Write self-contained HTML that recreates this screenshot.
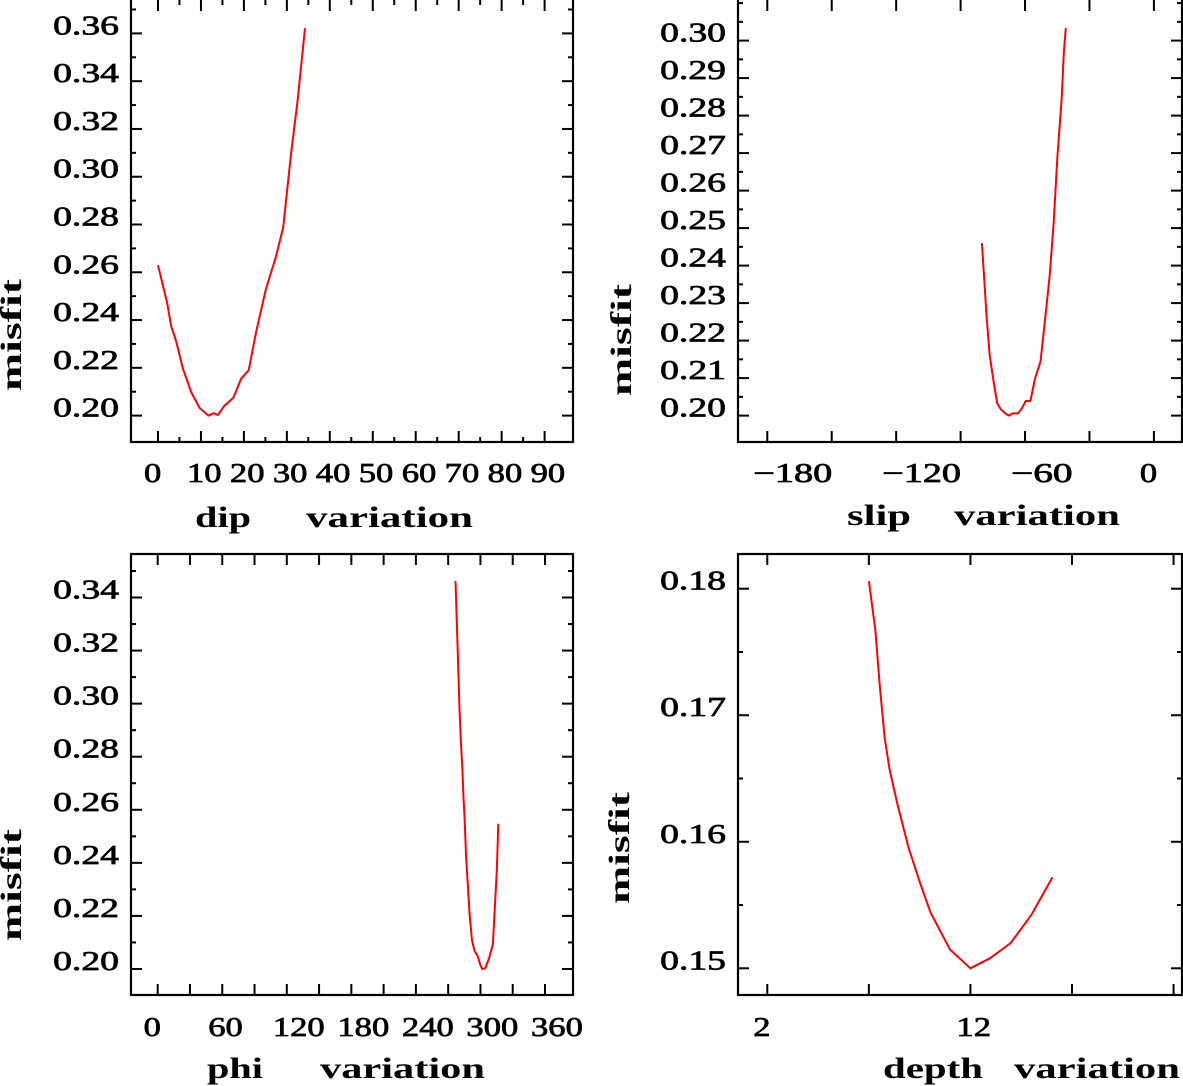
<!DOCTYPE html>
<html><head><meta charset="utf-8">
<style>
html,body{margin:0;padding:0;background:#fff;}
svg{display:block;}
text{font-family:"Liberation Serif",serif;fill:#000;}
</style></head>
<body>
<svg id="fig" width="1183" height="1086" viewBox="0 0 1183 1086" xmlns="http://www.w3.org/2000/svg"></svg>
<script>
// ---- Panel 1: dip ----
const dipX = [0,2.14,3.03,4.19,5.79,7.75,9.71,11.76,12.92,14.0,15.33,17.56,19.34,21.12,22.9,25.13,27.36,29.14,30.93,32.53,34.22];
const dipY = [0.263,0.2471,0.2378,0.2313,0.2197,0.2097,0.2032,0.2,0.201,0.2003,0.2039,0.2075,0.2154,0.219,0.2356,0.2529,0.2659,0.2788,0.3091,0.3322,0.3622];
const dipXTicks = [0,10,20,30,40,50,60,70,80,90];
const dipYTicks = [0.20,0.22,0.24,0.26,0.28,0.30,0.32,0.34,0.36];
// ---- Panel 2: slip ----
const slipX = [-80.1,-79.1,-77.9,-76.5,-74.8,-73.0,-71.3,-69.2,-67.5,-65.8,-63.2,-61.4,-59.7,-57.5,-55.4,-52.8,-50.2,-48.5,-46.7,-45.0,-42.9,-41.9,-41.0];
const slipY = [0.246,0.2374,0.2264,0.2163,0.2098,0.2034,0.2017,0.2006,0.2,0.2006,0.2006,0.202,0.2039,0.2039,0.2098,0.2144,0.2282,0.2374,0.2511,0.2686,0.2851,0.2971,0.3033];
const slipXTicks = [-180,-120,-60,0];
const slipYTicks = [0.20,0.21,0.22,0.23,0.24,0.25,0.26,0.27,0.28,0.29,0.30];
// ---- Panel 3: phi ----
const phiX = [276.8,278.5,279.6,280.3,281.8,283.2,284.2,285.3,286.7,288.2,289.9,292.1,294.6,297.4,299.9,301.7,304.5,308.1,311.6,313.8,315.2,315.9,316.6];
const phiY = [0.3462,0.3249,0.3105,0.3,0.2855,0.2751,0.2646,0.2567,0.2422,0.2318,0.2206,0.2108,0.2068,0.2049,0.2016,0.2,0.2003,0.2042,0.2094,0.2265,0.237,0.2462,0.2547];
const phiXTicks = [0,60,120,180,240,300,360];
const phiYTicks = [0.20,0.22,0.24,0.26,0.28,0.30,0.32,0.34];
// ---- Panel 4: depth ----
const depthX = [7.0,7.32,7.54,7.78,8.02,8.42,8.94,9.49,10.04,10.99,12.0,12.97,13.98,14.99,16.04];
const depthY = [0.1806,0.1767,0.1723,0.1682,0.1657,0.1629,0.1596,0.1569,0.1544,0.1515,0.15,0.1508,0.152,0.1542,0.1572];
const depthXTicks = [2,12];
const depthYTicks = [0.15,0.16,0.17,0.18];

const NS = "http://www.w3.org/2000/svg";
const svg = document.getElementById('fig');
function mk(tag, attrs, parent){
  const e = document.createElementNS(NS, tag);
  for (const k in attrs) e.setAttribute(k, attrs[k]);
  (parent||svg).appendChild(e);
  return e;
}
function labelWidth(s){
  let w=0;
  for (const c of s){ if(c==='.') w+=14; else if(c==='\u2212') w+=27; else w+=17.3; }
  return w;
}

const panels = [
 {name:'dip', xs:dipX, ys:dipY, xt:dipXTicks, yt:dipYTicks,
  L:131,R:573,T:-2,B:442, x0:0,x1:90,px0:158,px1:544.6, y0:0.20,y1:0.36,py0:415.6,py1:33.4,
  xMinorStep:5, yMinorStep:0.01, xlabBase:482, xStart:0,
  titles:[['dip',195,251],['variation',306,473]], titleBase:527, misfit:[12,335]},
 {name:'slip', xs:slipX, ys:slipY, xt:slipXTicks, yt:slipYTicks,
  L:738,R:1182,T:-2,B:442, x0:-180,x1:0,px0:767.3,px1:1153.9, y0:0.20,y1:0.30,py0:415.6,py1:40.6,
  xMinorStep:30, yMinorStep:0.005, xlabBase:482, xStart:-180,
  titles:[['slip',847,911],['variation',954,1120]], titleBase:525, misfit:[622,340]},
 {name:'phi', xs:phiX, ys:phiY, xt:phiXTicks, yt:phiYTicks,
  L:131,R:573,T:554,B:995, x0:0,x1:360,px0:157.7,px1:545, y0:0.20,y1:0.34,py0:969,py1:597.5,
  xMinorStep:30, yMinorStep:0.01, xlabBase:1036, xStart:0,
  titles:[['phi',207,263],['variation',320,485]], titleBase:1078, misfit:[12,885]},
 {name:'depth', xs:depthX, ys:depthY, xt:depthXTicks, yt:depthYTicks,
  L:738,R:1182,T:554,B:995, x0:2,x1:17,px0:767.3,px1:1072, y0:0.15,y1:0.18,py0:968.3,py1:588.7,
  xMinorStep:5, yMinorStep:0.005, xlabBase:1036, xStart:2,
  titles:[['depth',883,983],['variation',1014,1180]], titleBase:1078, misfit:[620,848]}
];

panels.forEach(p=>{
  const g = mk('g',{});
  
  
  const sx = v => p.px0 + (v-p.x0)*(p.px1-p.px0)/(p.x1-p.x0);
  const sy = v => p.py0 + (v-p.y0)*(p.py1-p.py0)/(p.y1-p.y0);
  const fr = mk('rect',{x:p.L,y:p.T,width:p.R-p.L,height:p.B-p.T,fill:'none',stroke:'#000','stroke-width':2.2},g);
  
  
  const xmaj = new Set(p.xt.map(v=>Math.round(v*1000)));
  for (let k=-20; k<200; k++){
    const v = p.xStart + k*p.xMinorStep;
    const px = sx(v); if (px<p.L+8||px>p.R-8) continue;
    const len = (xmaj.has(Math.round(v*1000)) || p.name!=='dip') ? 11 : 5;
    mk('line',{x1:px,x2:px,y1:p.B,y2:p.B-len,stroke:'#000','stroke-width':2},g);
    mk('line',{x1:px,x2:px,y1:Math.max(p.T,0),y2:Math.max(p.T,0)+len,stroke:'#000','stroke-width':2},g);
  }
  p.xt.forEach(v=>{
    const s = (v<0?'\u2212':'')+Math.abs(v);
    const t = mk('text',{x:sx(v)-14,y:p.xlabBase,'font-size':27,stroke:'#000','stroke-width':0.7,textLength:labelWidth(s),lengthAdjust:'spacingAndGlyphs'},g);
    t.textContent = s;
    
    
  });
  const ymaj = new Set(p.yt.map(v=>Math.round(v*10000)));
  for (let k=0;;k++){
    const v = p.y0 - 2*p.yMinorStep + k*p.yMinorStep;
    const py = sy(v); if (py<p.T+4 || py<3) break;
    if (py>p.B-8) continue;
    const len = ymaj.has(Math.round(v*10000)) ? 11 : 5;
    mk('line',{x1:p.L,x2:p.L+len,y1:py,y2:py,stroke:'#000','stroke-width':2},g);
    mk('line',{x1:p.R,x2:p.R-len,y1:py,y2:py,stroke:'#000','stroke-width':2},g);
  }
  p.yt.forEach(v=>{
    const s = v.toFixed(2);
    const w = labelWidth(s);
    const t = mk('text',{x:p.L-12-w,y:sy(v)+1,'font-size':27,stroke:'#000','stroke-width':0.7,textLength:w,lengthAdjust:'spacingAndGlyphs'},g);
    t.textContent = s;
    
    
  });
  p.titles.forEach(([s,a,b])=>{
    const t = mk('text',{x:a,y:p.titleBase,'font-size':30,'font-weight':'bold',textLength:b-a,lengthAdjust:'spacingAndGlyphs'},g);
    t.textContent = s;
    
    
  });
  const mx = p.misfit[0], my = p.misfit[1];
  const mt = mk('text',{x:0,y:0,'font-size':30,'font-weight':'bold','text-anchor':'middle',textLength:112,lengthAdjust:'spacingAndGlyphs',transform:`translate(${mx+9},${my}) rotate(-90)`},g);
  mt.textContent = 'misfit';
  
  
  const d = p.xs.map((x,i)=>(i?'L':'M')+sx(x).toFixed(1)+','+sy(p.ys[i]).toFixed(1)).join(' ');
  const path = mk('path',{d:d,fill:'none',stroke:'#ff0000','stroke-width':2,'stroke-linejoin':'round'},g);
  
  
});
</script>
</body></html>
